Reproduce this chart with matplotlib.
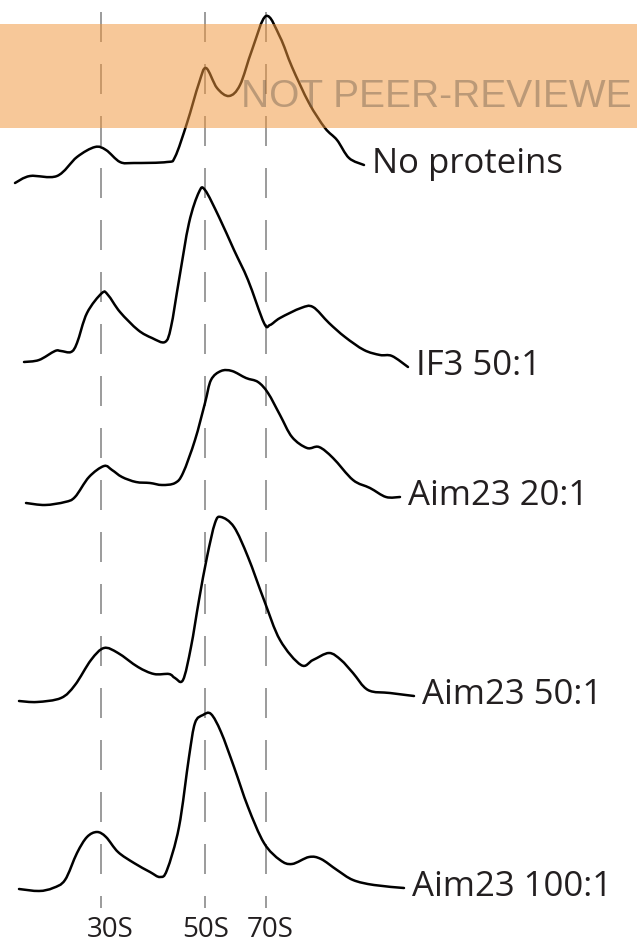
import matplotlib
matplotlib.use("Agg")
import matplotlib.pyplot as plt
from matplotlib import font_manager
from matplotlib.path import Path
from matplotlib.patches import PathPatch

# sucrose gradient profiles, position along gradient vs A260 (arbitrary units)
pos_none = [15, 30, 57, 77, 95, 106, 120, 134, 167, 175, 187, 199, 206, 217, 229, 240, 252, 266, 280, 292, 309, 325, 337, 349, 364]
a260_none = [7, 14, 14, 33, 43, 40, 28, 27, 28, 33, 67, 107, 122, 102, 94, 105, 140, 174, 153, 123, 87, 62, 50, 32, 25]

pos_if3 = [24, 39, 55, 61, 71, 77, 87, 102, 108, 120, 138, 152, 165, 171, 179, 189, 199, 205, 219, 234, 248, 264, 270, 280, 301, 313, 329, 345, 364, 380, 392, 408]
a260_if3 = [8, 10, 19, 19, 18, 27, 57, 77, 75, 58, 40, 32, 28, 43, 90, 147, 178, 180, 153, 120, 90, 47, 45, 52, 62, 63, 47, 33, 20, 15, 14, 3]

pos_aim20 = [26, 45, 65, 75, 89, 104, 112, 122, 136, 150, 162, 175, 183, 195, 205, 211, 221, 232, 246, 258, 268, 280, 292, 307, 319, 333, 353, 370, 386, 400]
a260_aim20 = [7, 5, 8, 13, 33, 44, 40, 33, 28, 27, 25, 27, 37, 70, 107, 130, 139, 139, 132, 128, 117, 95, 73, 62, 63, 52, 30, 22, 13, 13]

pos_aim50 = [19, 37, 61, 75, 91, 104, 118, 138, 154, 169, 175, 183, 191, 199, 207, 215, 221, 234, 248, 264, 280, 301, 313, 329, 341, 353, 368, 390, 414]
a260_aim50 = [4, 3, 7, 20, 45, 57, 52, 38, 31, 31, 27, 25, 58, 105, 148, 182, 188, 178, 148, 105, 65, 40, 45, 52, 45, 32, 15, 12, 9]

pos_aim100 = [19, 39, 53, 65, 77, 87, 97, 106, 118, 134, 150, 160, 167, 179, 189, 195, 203, 211, 221, 234, 248, 264, 280, 292, 309, 321, 337, 353, 374, 404]
a260_aim100 = [6, 4, 7, 15, 42, 58, 63, 58, 43, 32, 23, 18, 25, 68, 138, 172, 180, 181, 163, 128, 88, 52, 35, 31, 38, 36, 25, 15, 10, 7]

labels = ["No proteins", "IF3 50:1", "Aim23 20:1", "Aim23 50:1", "Aim23 100:1"]
offsets = [754, 574, 434, 239, 49]  # vertical stacking of the profiles

peak_names = ["30S", "50S", "70S"]
peak_pos = [101, 205, 266]

traces = [(pos_none, a260_none), (pos_if3, a260_if3), (pos_aim20, a260_aim20),
          (pos_aim50, a260_aim50), (pos_aim100, a260_aim100)]


def smooth_path(x, y):
    #catmull-rom through the read points, drawn as bezier segments
    verts = [(x[0], y[0])]
    codes = [Path.MOVETO]
    n = len(x)
    for i in range(n - 1):
        p0 = max(i - 1, 0)
        p3 = min(i + 2, n - 1)
        c1 = (x[i] + (x[i + 1] - x[p0]) / 6, y[i] + (y[i + 1] - y[p0]) / 6)
        c2 = (x[i + 1] - (x[p3] - x[i]) / 6, y[i + 1] - (y[p3] - y[i]) / 6)
        verts += [c1, c2, (x[i + 1], y[i + 1])]
        codes += [Path.CURVE4] * 3
    return Path(verts, codes)


names = {f.name for f in font_manager.fontManager.ttflist}
label_font = "Open Sans" if "Open Sans" in names else "DejaVu Sans"
mark_font = "Liberation Sans Narrow" if "Liberation Sans Narrow" in names else "Liberation Sans"

fig = plt.figure(figsize=(6.37, 9.44), dpi=100)
ax = fig.add_axes([0, 0, 1, 1])
ax.set_xlim(0, 637)
ax.set_ylim(0, 944)
ax.axis("off")

#dashed peak markers
for p in peak_pos:
    ax.plot([p, p], [932, 36], color="#8a8a8a", lw=1.2, dashes=(18, 13.2), zorder=1)

for (x, a), off, lab in zip(traces, offsets, labels):
    y = [v + off for v in a]
    ax.add_patch(PathPatch(smooth_path(x, y), fill=False, edgecolor="black",
                           lw=1.8, capstyle="round", joinstyle="round", zorder=2))
    ax.text(x[-1] + 8, y[-1] - 8, lab, fontsize=25, family=label_font,
            color="#231f20", va="baseline", ha="left")

for name, lx in zip(peak_names, [110, 206, 270]):
    ax.text(lx, 7, name, fontsize=20, family=label_font, color="#231f20",
            ha="center", va="baseline")

#watermark banner (cut at the right edge as in the source)
ax.axhspan(816, 920, color=(240/255, 150/255, 60/255), alpha=0.52, lw=0, zorder=3)
ax.text(241, 837, "NOT PEER-REVIEWE", fontsize=28, family=mark_font,
        color="#6a5a4a", alpha=0.42, va="baseline", ha="left", zorder=4)

fig.savefig("out.png", dpi=100)
